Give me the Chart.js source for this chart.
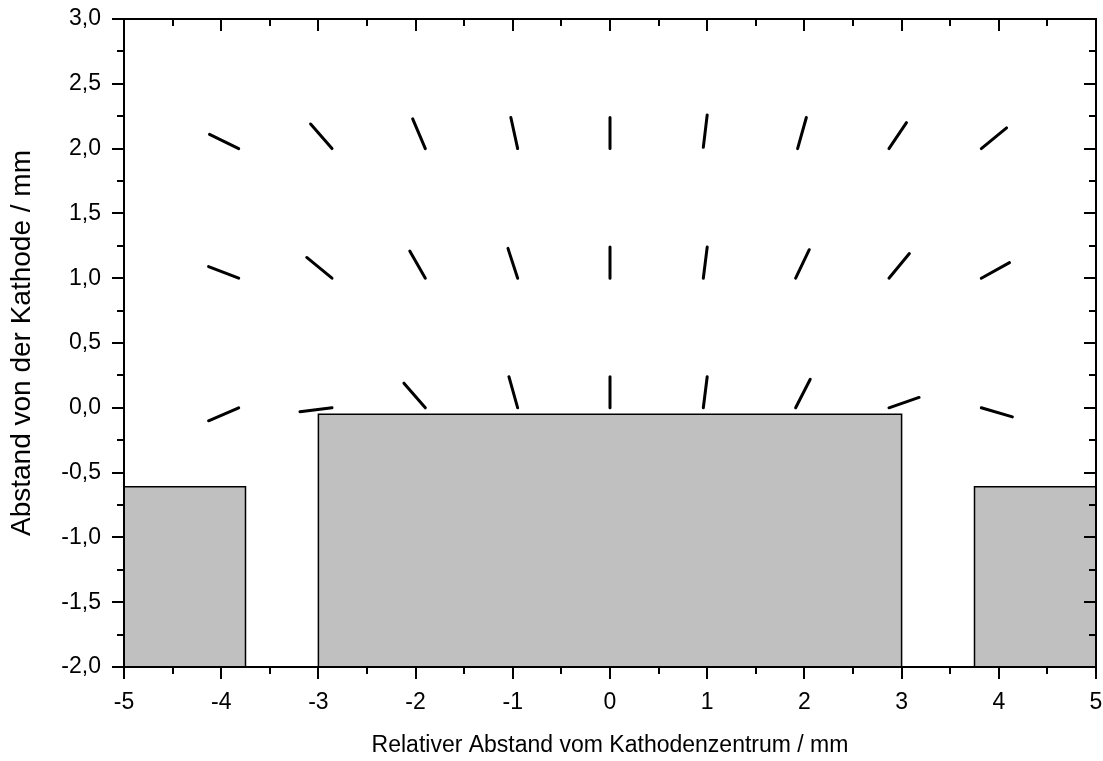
<!DOCTYPE html>
<html>
<head>
<meta charset="utf-8">
<script src="https://cdn.jsdelivr.net/npm/chart.js@4/dist/chart.umd.min.js"></script>
<style>
html,body{margin:0;padding:0;background:#fff;}
#wrap{width:1103px;height:761px;position:relative;}
</style>
</head>
<body>
<div id="wrap"><canvas id="c" width="1103" height="761"></canvas></div>
<script>
// Field-direction segments: start point (x1,y1) and end point (x2,y2), in mm
const segX1 = [-4.12,-3.08,-2.03,-1.02,0,1.00,2.02,3.05,4.08,
               -4.13,-3.12,-2.06,-1.05,0,1.00,2.05,3.08,4.11,
               -4.13,-3.19,-2.12,-1.04,0,1.00,2.06,3.18,4.14];
const segY1 = [2.11,2.19,2.23,2.24,2.24,2.26,2.24,2.20,2.16,
               1.09,1.16,1.21,1.23,1.24,1.24,1.22,1.19,1.12,
               -0.10,-0.03,0.19,0.24,0.24,0.24,0.22,0.08,-0.07];
const segX2 = [-3.82,-2.86,-1.90,-0.95,0,0.96,1.93,2.87,3.82,
               -3.82,-2.86,-1.90,-0.95,0,0.96,1.91,2.87,3.82,
               -3.82,-2.86,-1.90,-0.95,0,0.96,1.91,2.87,3.82];
const segY2 = [2.00,2.00,2.00,2.00,2.00,2.01,2.00,2.00,2.00,
               1.00,1.00,1.00,1.00,1.00,1.00,1.00,1.00,1.00,
               0.00,0.00,0.00,0.00,0.00,0.00,0.00,0.00,0.00];

// Electrode blocks (grey rectangles): left edge, right edge, top (bottom = -2)
const rectX0 = [-5, -3, 3.75];
const rectX1 = [-3.75, 3, 5];
const rectTop = [-0.61, -0.05, -0.61];
const rectBottom = -2;

// Axis ranges / ticks
const xMin = -5, xMax = 5, xStep = 1, xMinorStep = 0.5;
const yMin = -2, yMax = 3, yStep = 0.5, yMinorStep = 0.25;
const xTitle = 'Relativer Abstand vom Kathodenzentrum / mm';
const yTitle = 'Abstand von der Kathode / mm';

const FONT = '"Liberation Sans", Arial, Helvetica, sans-serif';

const datasets = [];
for (let i = 0; i < rectX0.length; i++) {
  datasets.push({
    data: [
      {x: rectX0[i], y: rectBottom},
      {x: rectX0[i], y: rectTop[i]},
      {x: rectX1[i], y: rectTop[i]},
      {x: rectX1[i], y: rectBottom}
    ],
    showLine: true,
    borderColor: '#000',
    borderWidth: 1.5,
    backgroundColor: '#c0c0c0',
    fill: 'start',
    pointRadius: 0,
    tension: 0,
    order: 2
  });
}
for (let i = 0; i < segX1.length; i++) {
  datasets.push({
    data: [{x: segX1[i], y: segY1[i]}, {x: segX2[i], y: segY2[i]}],
    showLine: true,
    borderColor: '#000',
    borderWidth: 3,
    borderCapStyle: 'round',
    pointRadius: 0,
    fill: false,
    order: 1
  });
}

const framePlugin = {
  id: 'frame',
  afterDraw(chart) {
    const {ctx, chartArea: a, scales: {x, y}} = chart;
    ctx.save();
    ctx.strokeStyle = '#000';
    ctx.lineWidth = 2;
    ctx.lineCap = 'butt';
    ctx.beginPath();
    const eps = 1e-9;
    for (let v = xMin; v <= xMax + eps; v += xMinorStep) {
      const major = Math.abs(v - Math.round(v / xStep) * xStep) < 1e-6;
      const L = major ? 12 : 7;
      const px = Math.round(x.getPixelForValue(v));
      ctx.moveTo(px, a.bottom); ctx.lineTo(px, a.bottom + L);
      ctx.moveTo(px, a.top); ctx.lineTo(px, a.top + L);
    }
    for (let v = yMin; v <= yMax + eps; v += yMinorStep) {
      const major = Math.abs(v - Math.round(v / yStep) * yStep) < 1e-6;
      const L = major ? 12 : 7;
      const py = Math.round(y.getPixelForValue(v));
      ctx.moveTo(a.left, py); ctx.lineTo(a.left - L, py);
      ctx.moveTo(a.right, py); ctx.lineTo(a.right - L, py);
    }
    ctx.stroke();
    ctx.strokeRect(a.left, a.top, a.right - a.left, a.bottom - a.top);
    ctx.restore();
  }
};

function zeroPad(s) { s.paddingTop = 0; s.paddingBottom = 0; s.paddingLeft = 0; s.paddingRight = 0; }

new Chart(document.getElementById('c'), {
  type: 'scatter',
  data: {datasets},
  plugins: [framePlugin],
  options: {
    responsive: false,
    animation: false,
    devicePixelRatio: 1,
    layout: {padding: {top: 19, right: 7, left: 0, bottom: 0}},
    plugins: {legend: {display: false}, tooltip: {enabled: false}},
    scales: {
      x: {
        type: 'linear', min: xMin, max: xMax,
        grid: {display: false, drawTicks: false},
        border: {display: false},
        ticks: {
          stepSize: xStep, padding: 22, color: '#000',
          font: {family: FONT, size: 23},
          maxRotation: 0,
          callback: v => String(v)
        },
        title: {display: true, text: xTitle, color: '#000',
                font: {family: FONT, size: 23}, padding: {top: 0, bottom: 2}},
        afterFit(s) { s.height = 94; zeroPad(s); }
      },
      y: {
        type: 'linear', min: yMin, max: yMax,
        grid: {display: false, drawTicks: false},
        border: {display: false},
        ticks: {
          stepSize: yStep, padding: 23, color: '#000',
          font: {family: FONT, size: 23},
          callback: v => Number(v).toFixed(1).replace('.', ',')
        },
        title: {display: true, text: yTitle, color: '#000',
                font: {family: FONT, size: 28}, padding: {top: 5, bottom: 0}},
        afterFit(s) { s.width = 124; zeroPad(s); }
      }
    }
  }
});
</script>
</body>
</html>
